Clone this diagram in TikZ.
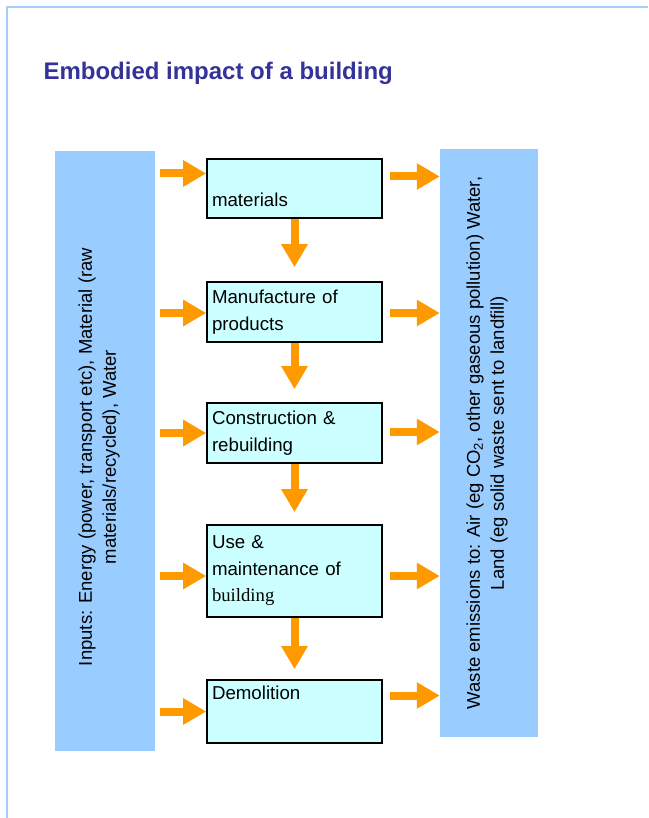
\documentclass[tikz,border=0pt]{standalone}
\usepackage{fontspec}
\setmainfont{Liberation Sans}
\newfontfamily\timesfont{Liberation Serif}
\usepackage{xcolor}
\usetikzlibrary{arrows.meta,calc}

\definecolor{panelblue}{HTML}{99CCFF}
\definecolor{edgeblue}{HTML}{A6CFFF}
\definecolor{stagecyan}{HTML}{CCFFFF}
\definecolor{floworange}{HTML}{FF9900}
\definecolor{titleblue}{HTML}{333399}

\begin{document}
\begin{tikzpicture}[
    x=1pt, y=-1pt,
    font=\fontsize{18.7}{26.5}\selectfont,
    panel/.style={fill=panelblue, inner sep=0pt, minimum width=#1},
    sidetext/.style={rotate=90, align=center, font=\fontsize{18.5}{24}\selectfont},
    stage/.style={draw=black, line width=1.6pt, fill=stagecyan, align=left,
        text width=165pt, inner xsep=5pt, inner ysep=0pt, minimum height=#1},
    flow/.style={draw=floworange, line width=8pt, -{Triangle[width=25pt,length=23pt]}}
]
\useasboundingbox (0,0) rectangle (648,818);

% Slide frame
\draw[edgeblue, line width=2.5pt] (7,818) -- (7,7) -- (648,7);

% Title
\node[anchor=west, text=titleblue, font=\fontsize{24}{28}\selectfont\bfseries] (title) at (40,73) {Embodied impact of a building};

% Inputs (left)
\node[panel=100pt, minimum height=600pt] (inputs) at (105,451) {};
\node[sidetext] (inputstext) at (99,457) {Inputs: Energy (power, transport etc), Material (raw\\materials/recycled), Water};

% Waste emissions (right)
\node[panel=98pt, minimum height=588pt] (waste) at (489,443) {};
\node[sidetext] (wastetext) at (487,443) {Waste emissions to: Air (eg CO\textsubscript{2}, other gaseous pollution) Water,\\Land (eg solid waste sent to landfill)};

% Stages
\node[stage=59pt] (materials) at (294.5,188.5) {\mbox{}\\[10pt]materials};
\node[stage=60pt] (manufacture) at (294.5,312) {Manufacture of\\products};
\node[stage=60pt] (construction) at (294.5,433) {Construction \&\\rebuilding};
\node[stage=92pt] (use) at (294.5,571) {Use \&\\maintenance of\\{\timesfont building}};
\node[stage=63pt] (demolition) at (294.5,711.5) {Demolition\\[12pt]\mbox{}};

% Flow down the stages
\draw[flow, shorten >=14pt] (materials) -- (manufacture);
\draw[flow, shorten >=13pt] (manufacture) -- (construction);
\draw[flow, shorten >=12pt] (construction) -- (use);
\draw[flow, shorten >=10pt] (use) -- (demolition);

% Inputs into each stage
\draw[flow] ($(inputs.east |- materials.west)+(5,-15)$) -- ($(materials.west)+(0,-15)$);
\draw[flow] ($(inputs.east |- manufacture.west)+(5,1)$) -- ($(manufacture.west)+(0,1)$);
\draw[flow] ($(inputs.east |- construction.west)+(5,0)$) -- (construction.west);
\draw[flow] ($(inputs.east |- use.west)+(5,5)$) -- ($(use.west)+(0,5)$);
\draw[flow] ($(inputs.east |- demolition.west)+(5,0)$) -- (demolition.west);

% Emissions out of each stage
\draw[flow] ($(materials.east)+(7,-12)$) -- ($(waste.west |- materials.east)+(0,-12)$);
\draw[flow] ($(manufacture.east)+(7,1)$) -- ($(waste.west |- manufacture.east)+(0,1)$);
\draw[flow] ($(construction.east)+(7,-1)$) -- ($(waste.west |- construction.east)+(0,-1)$);
\draw[flow] ($(use.east)+(7,5)$) -- ($(waste.west |- use.east)+(0,5)$);
\draw[flow] ($(demolition.east)+(7,-16)$) -- ($(waste.west |- demolition.east)+(0,-16)$);

\end{tikzpicture}
\end{document}
